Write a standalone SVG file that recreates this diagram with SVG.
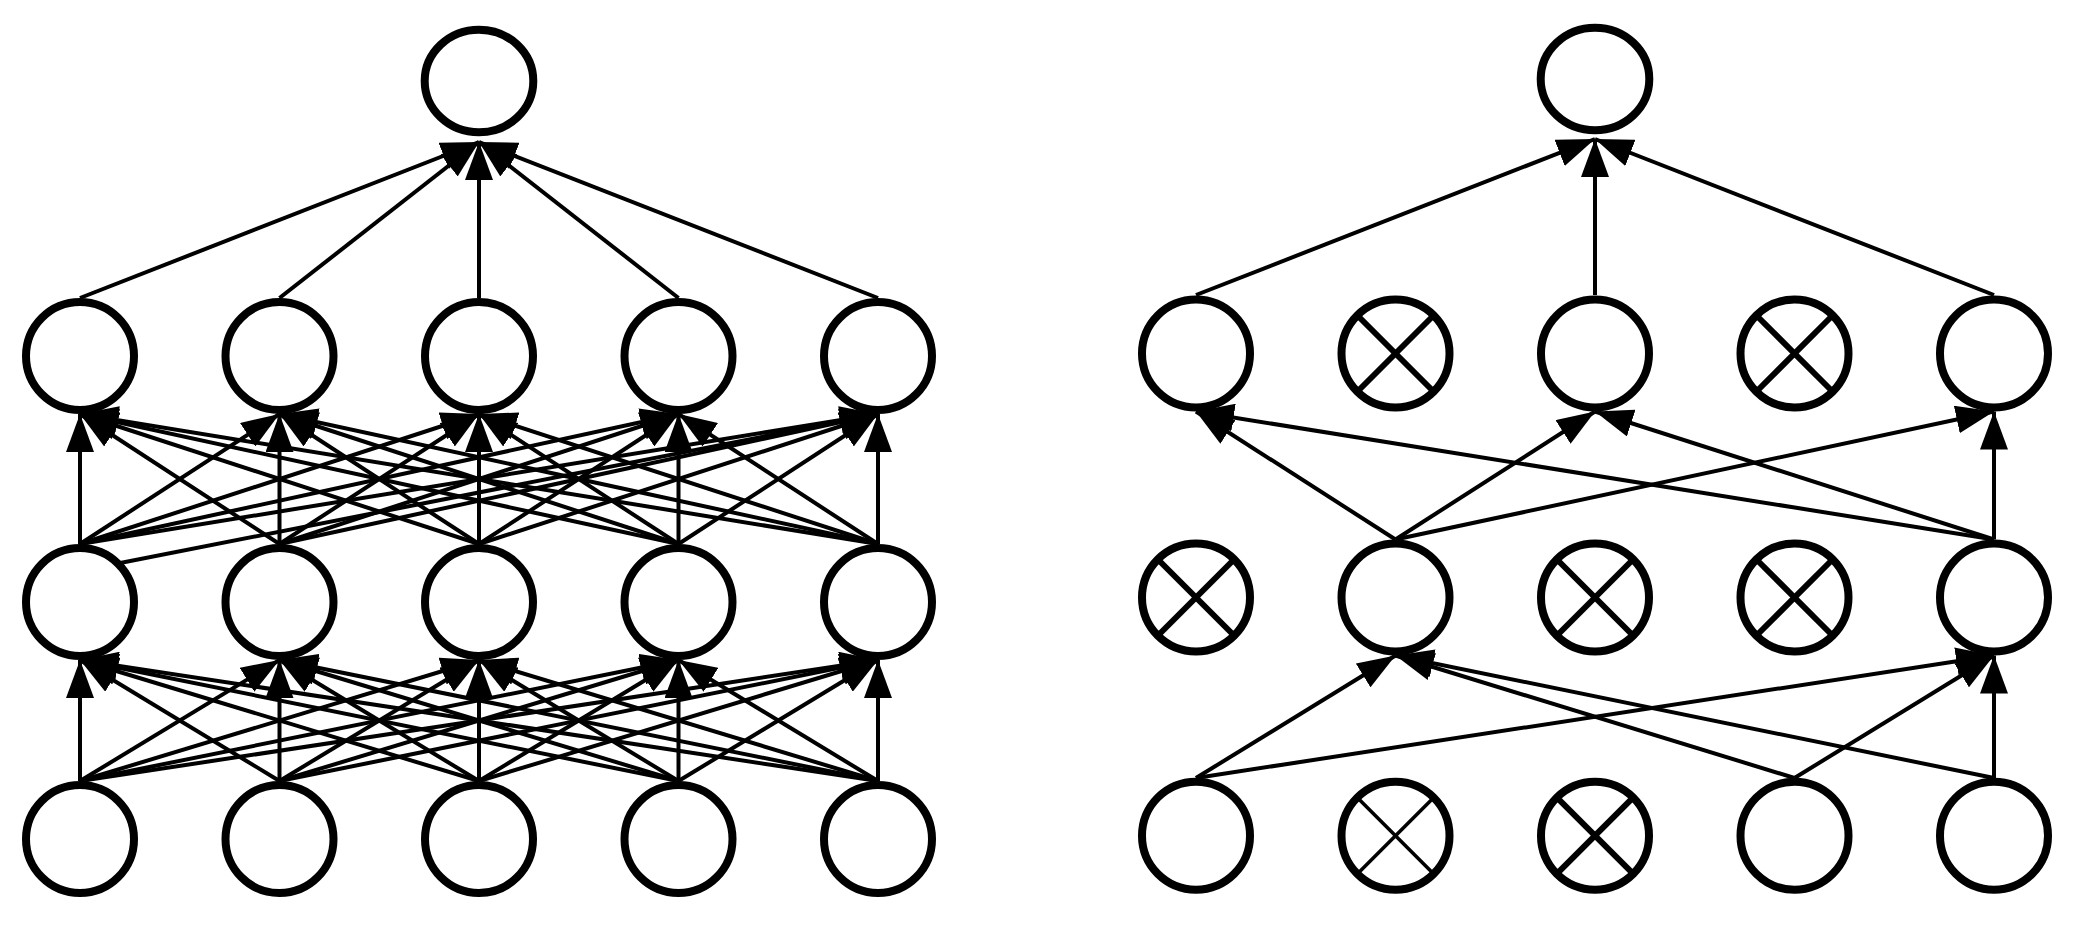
<svg xmlns="http://www.w3.org/2000/svg" width="2077" height="928" viewBox="0 0 2077 928">
<style>
.bg{fill:#ffffff}
.e{stroke:#000;stroke-width:4;fill:none;marker-end:url(#ah)}
.p{stroke:#000;stroke-width:4;fill:none}
.n{fill:#fff;stroke:#000;stroke-width:8}
.x{stroke:#000;stroke-width:6}
.xt{stroke:#000;stroke-width:3.5}
</style>
<defs>
<marker id="ah" markerUnits="userSpaceOnUse" markerWidth="38" markerHeight="28" refX="38" refY="14" orient="auto" viewBox="0 0 38 28">
<path d="M0,0 L38,14 L0,28 z" fill="#000"/>
</marker>
</defs>
<rect class="bg" x="0" y="0" width="2077" height="928"/>
<g id="connectors">
<!-- left network: input -> hidden1 -->
<line class="e" x1="80" y1="781" x2="80" y2="660"/>
<line class="e" x1="80" y1="781" x2="279.5" y2="660"/>
<line class="e" x1="80" y1="781" x2="479" y2="660"/>
<line class="e" x1="80" y1="781" x2="678.5" y2="660"/>
<line class="e" x1="80" y1="781" x2="878" y2="660"/>
<line class="e" x1="279.5" y1="781" x2="80" y2="660"/>
<line class="e" x1="279.5" y1="781" x2="279.5" y2="660"/>
<line class="e" x1="279.5" y1="781" x2="479" y2="660"/>
<line class="e" x1="279.5" y1="781" x2="678.5" y2="660"/>
<line class="e" x1="279.5" y1="781" x2="878" y2="660"/>
<line class="e" x1="479" y1="781" x2="80" y2="660"/>
<line class="e" x1="479" y1="781" x2="279.5" y2="660"/>
<line class="e" x1="479" y1="781" x2="479" y2="660"/>
<line class="e" x1="479" y1="781" x2="678.5" y2="660"/>
<line class="e" x1="479" y1="781" x2="878" y2="660"/>
<line class="e" x1="678.5" y1="781" x2="80" y2="660"/>
<line class="e" x1="678.5" y1="781" x2="279.5" y2="660"/>
<line class="e" x1="678.5" y1="781" x2="479" y2="660"/>
<line class="e" x1="678.5" y1="781" x2="678.5" y2="660"/>
<line class="e" x1="678.5" y1="781" x2="878" y2="660"/>
<line class="e" x1="878" y1="781" x2="80" y2="660"/>
<line class="e" x1="878" y1="781" x2="279.5" y2="660"/>
<line class="e" x1="878" y1="781" x2="479" y2="660"/>
<line class="e" x1="878" y1="781" x2="678.5" y2="660"/>
<line class="e" x1="878" y1="781" x2="878" y2="660"/>
<!-- left network: hidden1 -> hidden2 -->
<line class="e" x1="80" y1="544" x2="80" y2="414"/>
<line class="e" x1="80" y1="544" x2="279.5" y2="414"/>
<line class="e" x1="80" y1="544" x2="479" y2="414"/>
<line class="e" x1="80" y1="544" x2="678.5" y2="414"/>
<line class="e" x1="80" y1="544" x2="878" y2="414"/>
<line class="p" x1="110" y1="565" x2="878" y2="414"/>
<line class="e" x1="279.5" y1="544" x2="80" y2="414"/>
<line class="e" x1="279.5" y1="544" x2="279.5" y2="414"/>
<line class="e" x1="279.5" y1="544" x2="479" y2="414"/>
<line class="e" x1="279.5" y1="544" x2="678.5" y2="414"/>
<line class="e" x1="279.5" y1="544" x2="878" y2="414"/>
<line class="e" x1="479" y1="544" x2="80" y2="414"/>
<line class="e" x1="479" y1="544" x2="279.5" y2="414"/>
<line class="e" x1="479" y1="544" x2="479" y2="414"/>
<line class="e" x1="479" y1="544" x2="678.5" y2="414"/>
<line class="e" x1="479" y1="544" x2="878" y2="414"/>
<line class="e" x1="678.5" y1="544" x2="80" y2="414"/>
<line class="e" x1="678.5" y1="544" x2="279.5" y2="414"/>
<line class="e" x1="678.5" y1="544" x2="479" y2="414"/>
<line class="e" x1="678.5" y1="544" x2="678.5" y2="414"/>
<line class="e" x1="678.5" y1="544" x2="878" y2="414"/>
<line class="e" x1="878" y1="544" x2="80" y2="414"/>
<line class="e" x1="878" y1="544" x2="279.5" y2="414"/>
<line class="e" x1="878" y1="544" x2="479" y2="414"/>
<line class="e" x1="878" y1="544" x2="678.5" y2="414"/>
<line class="e" x1="878" y1="544" x2="878" y2="414"/>
<!-- left network: hidden2 -> output -->
<line class="e" x1="80" y1="298" x2="479" y2="142"/>
<line class="e" x1="279.5" y1="298" x2="479" y2="142"/>
<line class="e" x1="479" y1="298" x2="479" y2="142"/>
<line class="e" x1="678.5" y1="298" x2="479" y2="142"/>
<line class="e" x1="878" y1="298" x2="479" y2="142"/>
<!-- right network: input -> hidden1 -->
<line class="e" x1="1196" y1="778" x2="1395.5" y2="655.5"/>
<line class="e" x1="1196" y1="778" x2="1994" y2="655.5"/>
<line class="e" x1="1794.5" y1="778" x2="1395.5" y2="655.5"/>
<line class="e" x1="1794.5" y1="778" x2="1994" y2="655.5"/>
<line class="e" x1="1994" y1="778" x2="1395.5" y2="655.5"/>
<line class="e" x1="1994" y1="778" x2="1994" y2="655.5"/>
<!-- right network: hidden1 -> hidden2 -->
<line class="e" x1="1395.5" y1="539.5" x2="1196" y2="411.5"/>
<line class="e" x1="1395.5" y1="539.5" x2="1595" y2="411.5"/>
<line class="e" x1="1395.5" y1="539.5" x2="1994" y2="411.5"/>
<line class="e" x1="1994" y1="539.5" x2="1196" y2="411.5"/>
<line class="e" x1="1994" y1="539.5" x2="1595" y2="411.5"/>
<line class="e" x1="1994" y1="539.5" x2="1994" y2="411.5"/>
<!-- right network: hidden2 -> output -->
<line class="e" x1="1196" y1="295" x2="1595" y2="139"/>
<line class="e" x1="1595" y1="295" x2="1595" y2="139"/>
<line class="e" x1="1994" y1="295" x2="1595" y2="139"/>
</g>
<!-- left network nodes -->
<g id="L-out"><ellipse class="n" cx="479" cy="81" rx="54.3" ry="51.3"/></g>
<g id="L-h2-1"><circle class="n" cx="80" cy="356" r="54"/></g>
<g id="L-h2-2"><circle class="n" cx="279.5" cy="356" r="54"/></g>
<g id="L-h2-3"><circle class="n" cx="479" cy="356" r="54"/></g>
<g id="L-h2-4"><circle class="n" cx="678.5" cy="356" r="54"/></g>
<g id="L-h2-5"><circle class="n" cx="878" cy="356" r="54"/></g>
<g id="L-h1-1"><circle class="n" cx="80" cy="602" r="54"/></g>
<g id="L-h1-2"><circle class="n" cx="279.5" cy="602" r="54"/></g>
<g id="L-h1-3"><circle class="n" cx="479" cy="602" r="54"/></g>
<g id="L-h1-4"><circle class="n" cx="678.5" cy="602" r="54"/></g>
<g id="L-h1-5"><circle class="n" cx="878" cy="602" r="54"/></g>
<g id="L-in-1"><circle class="n" cx="80" cy="839" r="54"/></g>
<g id="L-in-2"><circle class="n" cx="279.5" cy="839" r="54"/></g>
<g id="L-in-3"><circle class="n" cx="479" cy="839" r="54"/></g>
<g id="L-in-4"><circle class="n" cx="678.5" cy="839" r="54"/></g>
<g id="L-in-5"><circle class="n" cx="878" cy="839" r="54"/></g>
<!-- right network nodes -->
<g id="R-out"><ellipse class="n" cx="1595" cy="79" rx="54.3" ry="51.3"/></g>
<g id="R-h2-1"><circle class="n" cx="1196" cy="353.5" r="54"/></g>
<g id="R-h2-2"><circle class="n" cx="1395.5" cy="353.5" r="54"/><line class="x" x1="1359.5" y1="317.5" x2="1431.5" y2="389.5"/><line class="x" x1="1431.5" y1="317.5" x2="1359.5" y2="389.5"/></g>
<g id="R-h2-3"><circle class="n" cx="1595" cy="353.5" r="54"/></g>
<g id="R-h2-4"><circle class="n" cx="1794.5" cy="353.5" r="54"/><line class="x" x1="1758.5" y1="317.5" x2="1830.5" y2="389.5"/><line class="x" x1="1830.5" y1="317.5" x2="1758.5" y2="389.5"/></g>
<g id="R-h2-5"><circle class="n" cx="1994" cy="353.5" r="54"/></g>
<g id="R-h1-1"><circle class="n" cx="1196" cy="597.5" r="54"/><line class="x" x1="1160" y1="561.5" x2="1232" y2="633.5"/><line class="x" x1="1232" y1="561.5" x2="1160" y2="633.5"/></g>
<g id="R-h1-2"><circle class="n" cx="1395.5" cy="597.5" r="54"/></g>
<g id="R-h1-3"><circle class="n" cx="1595" cy="597.5" r="54"/><line class="x" x1="1559" y1="561.5" x2="1631" y2="633.5"/><line class="x" x1="1631" y1="561.5" x2="1559" y2="633.5"/></g>
<g id="R-h1-4"><circle class="n" cx="1794.5" cy="597.5" r="54"/><line class="x" x1="1758.5" y1="561.5" x2="1830.5" y2="633.5"/><line class="x" x1="1830.5" y1="561.5" x2="1758.5" y2="633.5"/></g>
<g id="R-h1-5"><circle class="n" cx="1994" cy="597.5" r="54"/></g>
<g id="R-in-1"><circle class="n" cx="1196" cy="835.7" r="54"/></g>
<g id="R-in-2"><circle class="n" cx="1395.5" cy="835.7" r="54"/><line class="xt" x1="1359.5" y1="799.7" x2="1431.5" y2="871.7"/><line class="xt" x1="1431.5" y1="799.7" x2="1359.5" y2="871.7"/></g>
<g id="R-in-3"><circle class="n" cx="1595" cy="835.7" r="54"/><line class="x" x1="1559" y1="799.7" x2="1631" y2="871.7"/><line class="x" x1="1631" y1="799.7" x2="1559" y2="871.7"/></g>
<g id="R-in-4"><circle class="n" cx="1794.5" cy="835.7" r="54"/></g>
<g id="R-in-5"><circle class="n" cx="1994" cy="835.7" r="54"/></g>
</svg>
